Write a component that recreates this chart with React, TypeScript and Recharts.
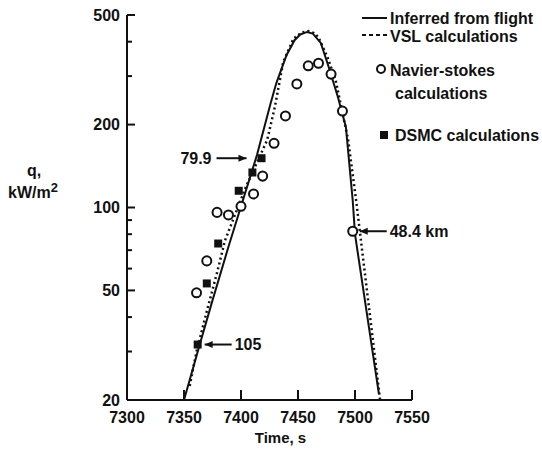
import { ComposedChart, Line, Scatter, XAxis, YAxis, ReferenceDot, Legend } from 'recharts';

// time, s
const flightT = [7350, 7364, 7375, 7389, 7414, 7426, 7431, 7440, 7447, 7452, 7458, 7463, 7470, 7477, 7485, 7492, 7498, 7500, 7521];
// q, kW/m2
const flightQ = [20, 32, 46, 72, 155, 239, 283, 358, 405, 425, 434, 428, 396, 323, 252, 196, 106, 80, 21];

const vslT = [7355, 7361, 7370, 7379, 7386, 7404, 7423, 7430, 7437, 7446, 7453, 7459, 7464, 7468, 7476, 7483, 7494, 7501, 7522];
const vslQ = [22.5, 30, 42, 58, 76, 118, 176, 235, 337, 410, 432, 437, 430, 415, 350, 290, 176, 106, 20];

const nsT = [7361, 7370, 7379, 7389, 7400, 7411, 7419, 7429, 7439, 7449, 7459, 7468, 7479, 7489, 7498];
const nsQ = [49, 64, 96, 94, 101, 112, 130, 171, 215, 281, 327, 334, 305, 224, 82];

const dsmcT = [7362, 7370, 7380, 7398, 7410, 7418];
const dsmcQ = [31.8, 53, 74, 115, 134, 151];

// altitude call-outs
const noteT = [7418, 7362, 7498];
const noteQ = [151, 31.8, 82];
const noteText = ['79.9', '105', '48.4 km'];

const xTicks = [7300, 7350, 7400, 7450, 7500, 7550];
const yTicks = [20, 30, 40, 50, 60, 70, 80, 90, 100, 200, 300, 400, 500];
const yLabelTicks = [20, 50, 100, 200, 500];

const toPoints = (ts: number[], qs: number[]) => ts.map((t, i) => ({ t, q: qs[i] }));

const flightData = toPoints(flightT, flightQ);
const vslData = toPoints(vslT, vslQ);
const nsData = toPoints(nsT, nsQ);
const dsmcData = toPoints(dsmcT, dsmcQ);

const FONT = '"Liberation Sans", Arial, Helvetica, sans-serif';
const INK = '#111';

const YTick = (props: any) => {
  const major = yLabelTicks.includes(props.payload.value);
  return (
    <g>
      <line x1={props.x} x2={props.x + (major ? 8 : 5)} y1={props.y} y2={props.y} stroke={INK} strokeWidth={2} />
      <text x={props.x - 7} y={props.y} dy="0.35em" textAnchor="end" fontFamily={FONT} fontWeight="bold" fontSize={16} fill={INK}>
        {major ? props.payload.value : ''}
      </text>
    </g>
  );
};

const XTick = (props: any) => (
  <g>
    <line x1={props.x} x2={props.x} y1={props.y} y2={props.y - 10} stroke={INK} strokeWidth={2} />
    <text x={props.x} y={props.y + 17} dy="0.35em" textAnchor="middle" fontFamily={FONT} fontWeight="bold" fontSize={16} fill={INK}>
      {props.payload.value}
    </text>
  </g>
);

const arrowLeft = (text: string) => (props: any) => (
  <g>
    <line x1={props.cx - 45} x2={props.cx - 15} y1={props.cy} y2={props.cy} stroke={INK} strokeWidth={2} />
    <polygon
      points={`${props.cx - 15},${props.cy} ${props.cx - 23},${props.cy - 3.5} ${props.cx - 23},${props.cy + 3.5}`}
      fill={INK}
    />
    <text x={props.cx - 50} y={props.cy} dy="0.35em" textAnchor="end" fontFamily={FONT} fontWeight="bold" fontSize={16} fill={INK}>
      {text}
    </text>
  </g>
);

const arrowRight = (text: string) => (props: any) => (
  <g>
    <line x1={props.cx + 7} x2={props.cx + 34} y1={props.cy} y2={props.cy} stroke={INK} strokeWidth={2} />
    <polygon
      points={`${props.cx + 7},${props.cy} ${props.cx + 15},${props.cy - 3.5} ${props.cx + 15},${props.cy + 3.5}`}
      fill={INK}
    />
    <text x={props.cx + 37} y={props.cy} dy="0.35em" textAnchor="start" fontFamily={FONT} fontWeight="bold" fontSize={16} fill={INK}>
      {text}
    </text>
  </g>
);

const renderLegend = () => {
  const txt = { fontFamily: FONT, fontWeight: 'bold' as const, fontSize: 16, fill: INK };
  return (
    <svg width={187} height={150}>
      <line x1={7} x2={32} y1={18} y2={18} stroke={INK} strokeWidth={2} />
      <text x={35} y={18} dy="0.35em" {...txt}>Inferred from flight</text>
      <line x1={7} x2={32} y1={35} y2={35} stroke={INK} strokeWidth={2} strokeDasharray="4 3" />
      <text x={35} y={36} dy="0.35em" {...txt}>VSL calculations</text>
      <circle cx={26} cy={69} r={4} fill="#fff" stroke={INK} strokeWidth={2} />
      <text x={35} y={70} dy="0.35em" {...txt}>Navier-stokes</text>
      <text x={40} y={93} dy="0.35em" {...txt}>calculations</text>
      <rect x={25} y={131} width={8} height={8} fill={INK} />
      <text x={40} y={135} dy="0.35em" {...txt}>DSMC calculations</text>
    </svg>
  );
};

const yLabel = (props: any) => (
  <text textAnchor="middle" fontFamily={FONT} fontWeight="bold" fontSize={16} fill={INK}>
    <tspan x={props.viewBox.x + props.viewBox.width - 93} y={props.viewBox.y + 155} dy="0.35em">q,</tspan>
    <tspan x={props.viewBox.x + props.viewBox.width - 94} y={props.viewBox.y + 177} dy="0.35em">kW/m</tspan>
    <tspan dy="-0.45em" fontSize={13}>2</tspan>
  </text>
);

const xLabel = (props: any) => (
  <text
    x={props.viewBox.x + props.viewBox.width / 2 + 11}
    y={props.viewBox.y + 38}
    dy="0.35em"
    textAnchor="middle"
    fontFamily={FONT}
    fontWeight="bold"
    fontSize={15}
    fill={INK}
  >
    Time, s
  </text>
);

export default function App() {
  return (
    <div style={{ position: 'absolute', left: 0, top: 0, width: 542, height: 452, background: '#fff' }}>
      <ComposedChart width={542} height={452} margin={{ top: 15, right: 130, bottom: 22, left: 67 }}>
        <XAxis
          type="number"
          dataKey="t"
          domain={[7300, 7550]}
          ticks={xTicks}
          interval={0}
          allowDataOverflow
          height={30}
          tickSize={0}
          tickMargin={0}
          tickLine={false}
          tick={XTick}
          axisLine={{ stroke: INK, strokeWidth: 2 }}
          label={xLabel}
        />
        <YAxis
          type="number"
          dataKey="q"
          scale="log"
          domain={[20, 500]}
          ticks={yTicks}
          interval={0}
          allowDataOverflow
          width={60}
          tickSize={0}
          tickMargin={0}
          tickLine={false}
          tick={YTick}
          axisLine={{ stroke: INK, strokeWidth: 2 }}
          label={yLabel}
        />
        <Legend
          layout="vertical"
          align="center"
          verticalAlign="middle"
          content={renderLegend}
          wrapperStyle={{ left: 355, top: 0, width: 187, height: 150 }}
        />
        <Line data={flightData} dataKey="q" stroke={INK} strokeWidth={2} dot={false} isAnimationActive={false} />
        <Line
          data={vslData}
          dataKey="q"
          stroke={INK}
          strokeWidth={2.5}
          strokeDasharray="2 3"
          dot={false}
          isAnimationActive={false}
        />
        <Scatter data={nsData} dataKey="q" shape="circle" fill="#fff" stroke={INK} strokeWidth={2} isAnimationActive={false} />
        <Scatter data={dsmcData} dataKey="q" shape="square" fill={INK} isAnimationActive={false} />
        <ReferenceDot x={noteT[0]} y={noteQ[0]} r={0} shape={arrowLeft(noteText[0])} />
        <ReferenceDot x={noteT[1]} y={noteQ[1]} r={0} shape={arrowRight(noteText[1])} />
        <ReferenceDot x={noteT[2]} y={noteQ[2]} r={0} shape={arrowRight(noteText[2])} />
      </ComposedChart>
    </div>
  );
}
